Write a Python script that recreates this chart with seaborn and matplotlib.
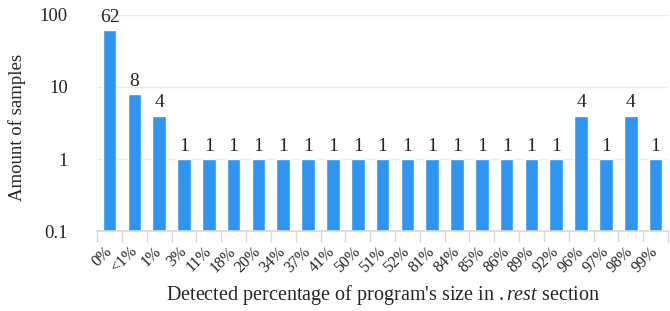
import pandas as pd
import matplotlib.pyplot as plt
import seaborn as sns

# Data
categories = ["0%", "<1%", "1%", "3%", "11%", "18%", "20%", "34%", "37%", "41%",
              "50%", "51%", "52%", "81%", "84%", "85%", "86%", "89%", "92%",
              "96%", "97%", "98%", "99%"]
samples = [62, 8, 4, 1, 1, 1, 1, 1, 1, 1,
           1, 1, 1, 1, 1, 1, 1, 1, 1,
           4, 1, 4, 1]

df = pd.DataFrame({"pct": categories, "count": samples})

sns.set_theme(style="white")
plt.rcParams["font.family"] = ["Liberation Serif", "DejaVu Serif"]
plt.rcParams["mathtext.fontset"] = "custom"
plt.rcParams["mathtext.rm"] = "Liberation Serif"
plt.rcParams["mathtext.it"] = "Liberation Serif:italic"

fig = plt.figure(figsize=(6.7, 3.11), dpi=100)
ax = fig.add_axes([0.145, 0.257, 0.852, 0.695])

sns.barplot(data=df, x="pct", y="count", color="#2E96F2", saturation=1,
            width=0.55, ax=ax)
ax.set_yscale("log")
ax.set_ylim(0.1, 100)
ax.set_xlim(-0.5, len(categories) - 0.5)

# grid lines
for v in [1, 10, 100]:
    ax.axhline(v, color="#ebebeb", lw=1, zorder=0)

for s in ["top", "right", "left"]:
    ax.spines[s].set_visible(False)
ax.spines["bottom"].set_color("#d9d9d9")

ax.set_yticks([0.1, 1, 10, 100])
ax.set_yticklabels(["0.1", "1", "10", "100"], fontsize=13.5)
ax.yaxis.set_minor_locator(plt.NullLocator())
ax.tick_params(axis="y", length=0, pad=21)

# category boundary ticks on x
ax.set_xticks(range(len(categories)))
ax.set_xticklabels(categories, rotation=45, fontsize=11.5)
ax.set_xticks([i - 0.5 for i in range(len(categories) + 1)], minor=True)
ax.tick_params(axis="x", which="major", length=0, pad=13)
ax.tick_params(axis="x", which="minor", length=8, color="#d9d9d9", bottom=True)

for lbl in ax.get_xticklabels():
    lbl.set_rotation_mode("anchor")
    lbl.set_ha("right")
    lbl.set_va("center")

ax.bar_label(ax.containers[0], labels=[str(v) for v in samples],
             padding=3, fontsize=14)

ax.set_ylabel("Amount of samples", fontsize=13.5, va="center", ha="center")
ax.yaxis.set_label_coords(-0.14, 0.48)
ax.set_xlabel("Detected percentage of program's size in $\\it{.rest}$ section",
              fontsize=14.5, va="center", ha="center")
ax.xaxis.set_label_coords(0.5, -0.296)

plt.savefig("out.png", dpi=100)
plt.close()
